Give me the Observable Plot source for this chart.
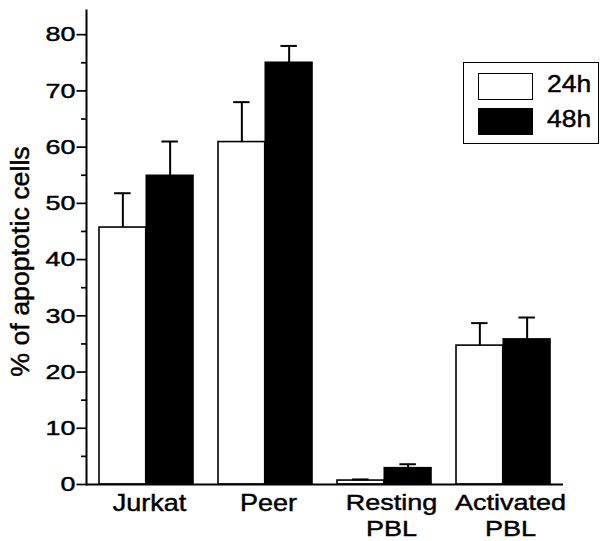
<!DOCTYPE html>
<html>
<head>
<meta charset="utf-8">
<script src="https://cdn.jsdelivr.net/npm/d3@7"></script>
<script src="https://cdn.jsdelivr.net/npm/@observablehq/plot@0.6"></script>
<style>
  html, body { margin: 0; padding: 0; background: #fff; }
  #chart { position: relative; width: 600px; height: 541px; font-family: "Liberation Sans", Arial, sans-serif; color: #000; }
  #chart svg { position: absolute; left: 0; top: 0; }
  #chart svg text { stroke: #000; stroke-width: 0.45px; }
  .lg-box { position: absolute; border: 1.8px solid #000; box-sizing: border-box; background: #fff; }
  .lg-sw { position: absolute; box-sizing: border-box; border: 1.6px solid #000; }
  .lg-tx { position: absolute; font-size: 24.5px; line-height: 24.5px; white-space: nowrap; transform: scaleX(1.08); transform-origin: 0 0; -webkit-text-stroke: 0.45px #000; }
</style>
</head>
<body>
<div id="chart"></div>
<script>
// ---- data ----
const categories = ["Jurkat", "Peer", "Resting\nPBL", "Activated\nPBL"];
const series = ["24h", "48h"];
const seriesFill = ["white", "black"];
const mean24 = [45.7, 60.9, 0.7, 24.7];
const sd24   = [6.1, 7.1, 0.2, 4.0];
const mean48 = [54.9, 75.0, 2.9, 25.8];
const sd48   = [6.1, 3.0, 0.7, 3.9];
const yTicks = [0, 10, 20, 30, 40, 50, 60, 70, 80];
const yMinorTicks = [5, 15, 25, 35, 45, 55, 65, 75];
const yLabel = "% of apoptotic cells";

// ---- table ----
const rows = categories.flatMap((c, i) => [
  {category: c, series: series[0], value: mean24[i], sd: sd24[i]},
  {category: c, series: series[1], value: mean48[i], sd: sd48[i]}
]);
const rows24 = rows.filter(d => d.series === series[0]);
const rows48 = rows.filter(d => d.series === series[1]);

// ---- layout ----
const W = 600, H = 541;
const mL = 86, mR = 37, mT = 10, mB = 57;
const padIn = 0.208, padOut = 0.1015;
const bw = d3.scaleBand().domain(categories).range([mL, W - mR]).paddingInner(padIn).paddingOuter(padOut).bandwidth();
const half = bw / 2, quarter = bw / 4, capHalf = 8.5;
const errTop = d => d.value + d.sd;

const plot = Plot.plot({
  width: W, height: H,
  marginLeft: mL, marginRight: mR, marginTop: mT, marginBottom: mB,
  style: {fontFamily: '"Liberation Sans", Arial, sans-serif', color: "#000", background: "transparent", overflow: "visible"},
  x: {domain: categories, paddingInner: padIn, paddingOuter: padOut, label: null},
  y: {domain: [0, 84.3], label: null},
  color: {domain: series, range: seriesFill},
  marks: [
    Plot.barY(rows24, {x: "category", y: "value", fill: "series", stroke: "#000", strokeWidth: 1.6, insetRight: half}),
    Plot.barY(rows48, {x: "category", y: "value", fill: "series", stroke: "#000", strokeWidth: 1.6, insetLeft: half}),
    Plot.ruleX(rows24, {x: "category", y1: "value", y2: errTop, dx: -quarter, stroke: "#000", strokeWidth: 2}),
    Plot.ruleX(rows48, {x: "category", y1: "value", y2: errTop, dx: quarter, stroke: "#000", strokeWidth: 2}),
    Plot.tickY(rows24, {x: "category", y: errTop, dx: -quarter, insetLeft: half - capHalf, insetRight: half - capHalf, stroke: "#000", strokeWidth: 2}),
    Plot.tickY(rows48, {x: "category", y: errTop, dx: quarter, insetLeft: half - capHalf, insetRight: half - capHalf, stroke: "#000", strokeWidth: 2}),
    Plot.frame({anchor: "left", stroke: "#000", strokeWidth: 2}),
    Plot.ruleY([0], {stroke: "#000", strokeWidth: 2}),
    Plot.axisY({ticks: yTicks, tickSize: 9.5, tickPadding: 1.5, fontSize: 21, label: null, strokeWidth: 1.7}),
    Plot.axisY({ticks: yMinorTicks, tickSize: 5, tickFormat: () => "", label: null, strokeWidth: 1.7}),
    Plot.axisX({ticks: categories.slice(0, 2), tickSize: 0, tickPadding: 10, fontSize: 23.5, dx: 3, label: null}),
    Plot.axisX({ticks: categories.slice(2), tickSize: 0, tickPadding: 8, fontSize: 22.5, dx: 7, label: null, lineHeight: 1.12}),
    Plot.text([yLabel], {text: d => d, frameAnchor: "left", textAnchor: "middle", rotate: -90, lineAnchor: "middle", dx: -66, dy: 14, fontSize: 25.5})
  ]
});

const chart = document.getElementById("chart");
chart.appendChild(plot);

// horizontal stretch of the scanned lettering
function stretch(el, s) {
  const x = parseFloat(el.getAttribute("x")) || 0;
  const t = el.getAttribute("transform") || "";
  el.setAttribute("transform", `${t} translate(${x},0) scale(${s},1) translate(${-x},0)`);
}
plot.querySelectorAll('[aria-label="y-axis tick label"] text').forEach(t => stretch(t, 1.28));
plot.querySelectorAll('[aria-label="x-axis tick label"] text').forEach(t => {
  const single = t.textContent === categories[0] || t.textContent === categories[1];
  stretch(t, single ? 1.15 : 1.2);
});
plot.querySelectorAll('text').forEach(t => { if (t.textContent === yLabel) stretch(t, 1.05); });

// ---- legend ----
const lgLeft = 463, lgTop = 61.5, rowStep = 35;
d3.select(chart).append("div").attr("class", "lg-box")
  .style("left", lgLeft + "px").style("top", lgTop + "px")
  .style("width", "136px").style("height", "82px");
series.forEach((s, i) => {
  d3.select(chart).append("div").attr("class", "lg-sw")
    .style("left", (lgLeft + 14.5) + "px").style("top", (lgTop + 11.8 + i * rowStep) + "px")
    .style("width", "55px").style("height", "26.5px")
    .style("background", seriesFill[i]);
  d3.select(chart).append("div").attr("class", "lg-tx")
    .style("left", (lgLeft + 83.5) + "px").style("top", (lgTop + 10.3 + i * rowStep) + "px")
    .text(s);
});
</script>
</body>
</html>
